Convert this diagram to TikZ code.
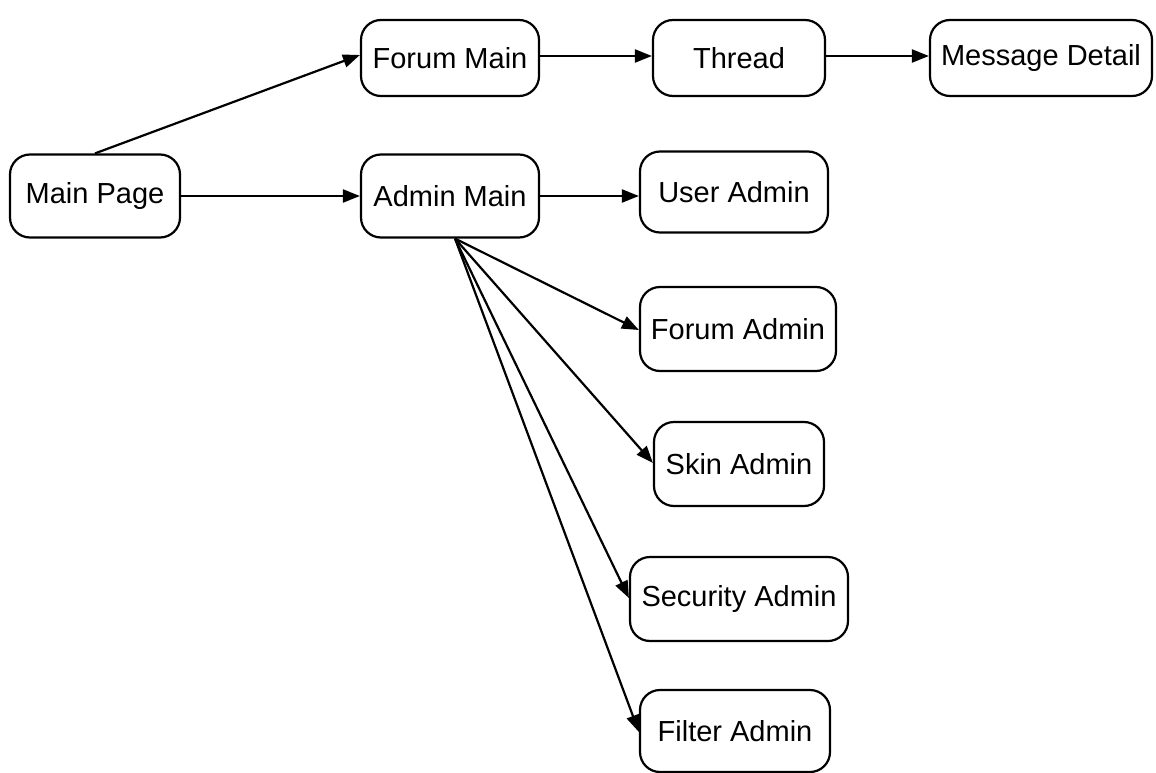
\documentclass[tikz,border=0pt]{standalone}
\usepackage{fontspec}
\setmainfont{Liberation Sans}
\usetikzlibrary{arrows.meta,calc}
\begin{document}
\begin{tikzpicture}[x=1pt,y=1pt,
  box/.style={draw,line width=2.2pt,rounded corners=20pt,inner sep=0pt,font=\fontsize{29}{32}\selectfont},
  conn/.style={line width=2.2pt,-{Triangle[length=17pt,width=13pt]}}]
\useasboundingbox (0,0) rectangle (1156,-773);
\node[box,minimum width=170pt,minimum height=83pt] (mp) at (95,-196) {Main Page};
\node[box,minimum width=178pt,minimum height=76pt] (fm) at (450,-58) {Forum Main};
\node[box,minimum width=172pt,minimum height=76pt] (th) at (739,-58) {Thread};
\node[box,minimum width=222pt,minimum height=76pt] (md) at (1041,-58) {Message Detail};
\node[box,minimum width=178pt,minimum height=83pt] (am) at (450,-196) {Admin Main};
\node[box,minimum width=188pt,minimum height=81pt] (ua) at (734,-192) {User Admin};
\node[box,minimum width=196pt,minimum height=84pt] (fa) at (738,-329) {Forum Admin};
\node[box,minimum width=170pt,minimum height=84pt] (sk) at (739,-464) {Skin Admin};
\node[box,minimum width=218pt,minimum height=84pt] (se) at (739,-599) {Security Admin};
\node[box,minimum width=190pt,minimum height=82pt] (fi) at (735,-731) {Filter Admin};
\coordinate (fan) at ($(am.south)+(5,0)$);
\draw[conn] (mp.north) -- ($(fm.west)+(0,3)$);
\draw[conn] (mp.east) -- (am.west);
\draw[conn] ($(fm.east)+(0,2)$) -- ($(th.west)+(0,2)$);
\draw[conn] ($(th.east)+(0,2)$) -- ($(md.west)+(0,2)$);
\draw[conn] (am.east) -- (am.east -| ua.west);
\draw[conn] (fan) -- ($(fa.west)+(0,-1)$);
\draw[conn] (fan) -- ($(sk.west)+(0,1)$);
\draw[conn] (fan) -- ($(se.west)+(0,1)$);
\draw[conn] (fan) -- ($(fi.west)+(0,-1)$);
\end{tikzpicture}
\end{document}
